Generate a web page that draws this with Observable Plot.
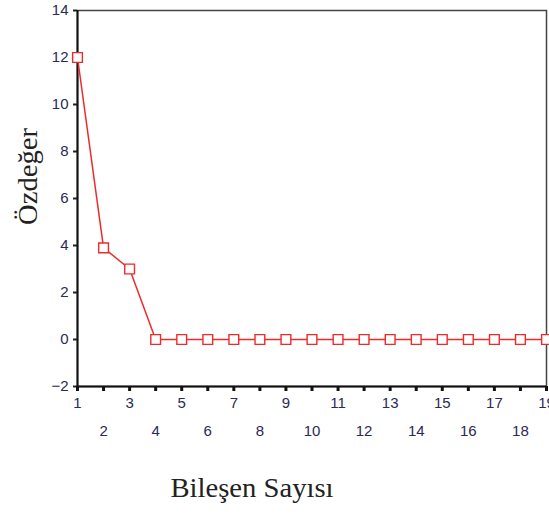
<!DOCTYPE html>
<html>
<head>
<meta charset="utf-8">
<script src="https://cdn.jsdelivr.net/npm/d3@7"></script>
<script src="https://cdn.jsdelivr.net/npm/@observablehq/plot@0.6"></script>
<style>
  html, body { margin: 0; padding: 0; background: #fff; }
</style>
</head>
<body>
<div id="chart"></div>
<script>
const components = [1, 2, 3, 4, 5, 6, 7, 8, 9, 10, 11, 12, 13, 14, 15, 16, 17, 18, 19];
const eigenvalues = [12.0, 3.9, 3.0, 0, 0, 0, 0, 0, 0, 0, 0, 0, 0, 0, 0, 0, 0, 0, 0];
const yTicks = [-2, 0, 2, 4, 6, 8, 10, 12, 14];
const xTicksOdd = [1, 3, 5, 7, 9, 11, 13, 15, 17, 19];
const xTicksEven = [2, 4, 6, 8, 10, 12, 14, 16, 18];
const yLabel = "Özdeğer";
const xLabel = "Bileşen Sayısı";

const data = components.map((c, i) => ({c, v: eigenvalues[i]}));
const red = "#ee2a2a";
const tickColor = "#2a2a55";
const serif = "'Liberation Serif', 'Times New Roman', serif";

const chart = Plot.plot({
  width: 549,
  height: 515,
  marginLeft: 77,
  marginRight: 3,
  marginTop: 10,
  marginBottom: 129,
  style: {fontFamily: "'Liberation Sans', Arial, sans-serif", fontSize: "15px", background: "#fff", overflow: "visible"},
  x: {domain: [1, 19]},
  y: {domain: [-2, 14]},
  marks: [
    Plot.frame({stroke: "#444", strokeWidth: 1.5}),
    Plot.axisY(yTicks, {tickSize: 4, tickPadding: 5, strokeWidth: 2, color: tickColor, stroke: "#222", label: null, fontSize: 15}),
    Plot.axisX(xTicksOdd, {tickSize: 5, tickPadding: 6, strokeWidth: 3, color: tickColor, stroke: "#111", label: null, fontSize: 15}),
    Plot.axisX(xTicksEven, {tickSize: 5, tickPadding: 34, strokeWidth: 3, color: tickColor, stroke: "#111", label: null, fontSize: 15}),
    Plot.ruleX([1], {stroke: "#111", strokeWidth: 2}),
    Plot.ruleY([-2], {stroke: "#111", strokeWidth: 2}),
    Plot.line(data, {x: "c", y: "v", stroke: red, strokeWidth: 1.5}),
    Plot.dot(data, {x: "c", y: "v", symbol: "square", r: 5.5, stroke: red, fill: "#fff", strokeWidth: 1.4}),
    Plot.text([yLabel], {frameAnchor: "left", textAnchor: "middle", dx: -49, dy: -22, rotate: -90, fontSize: 27, fontFamily: serif, fill: "#222", text: d => d, className: "ylab"}),
    Plot.text([xLabel], {frameAnchor: "bottom", textAnchor: "middle", dx: -60, dy: 110, fontSize: 27, fontFamily: serif, fill: "#222", text: d => d, className: "xlab"})
  ]
});
document.getElementById("chart").appendChild(chart);
// stretch the axis titles horizontally like the reference
chart.querySelectorAll(".ylab text").forEach(t => { t.setAttribute("textLength", "97"); t.setAttribute("lengthAdjust", "spacingAndGlyphs"); });
chart.querySelectorAll(".xlab text").forEach(t => { t.setAttribute("textLength", "163"); t.setAttribute("lengthAdjust", "spacingAndGlyphs"); });
</script>
</body>
</html>
